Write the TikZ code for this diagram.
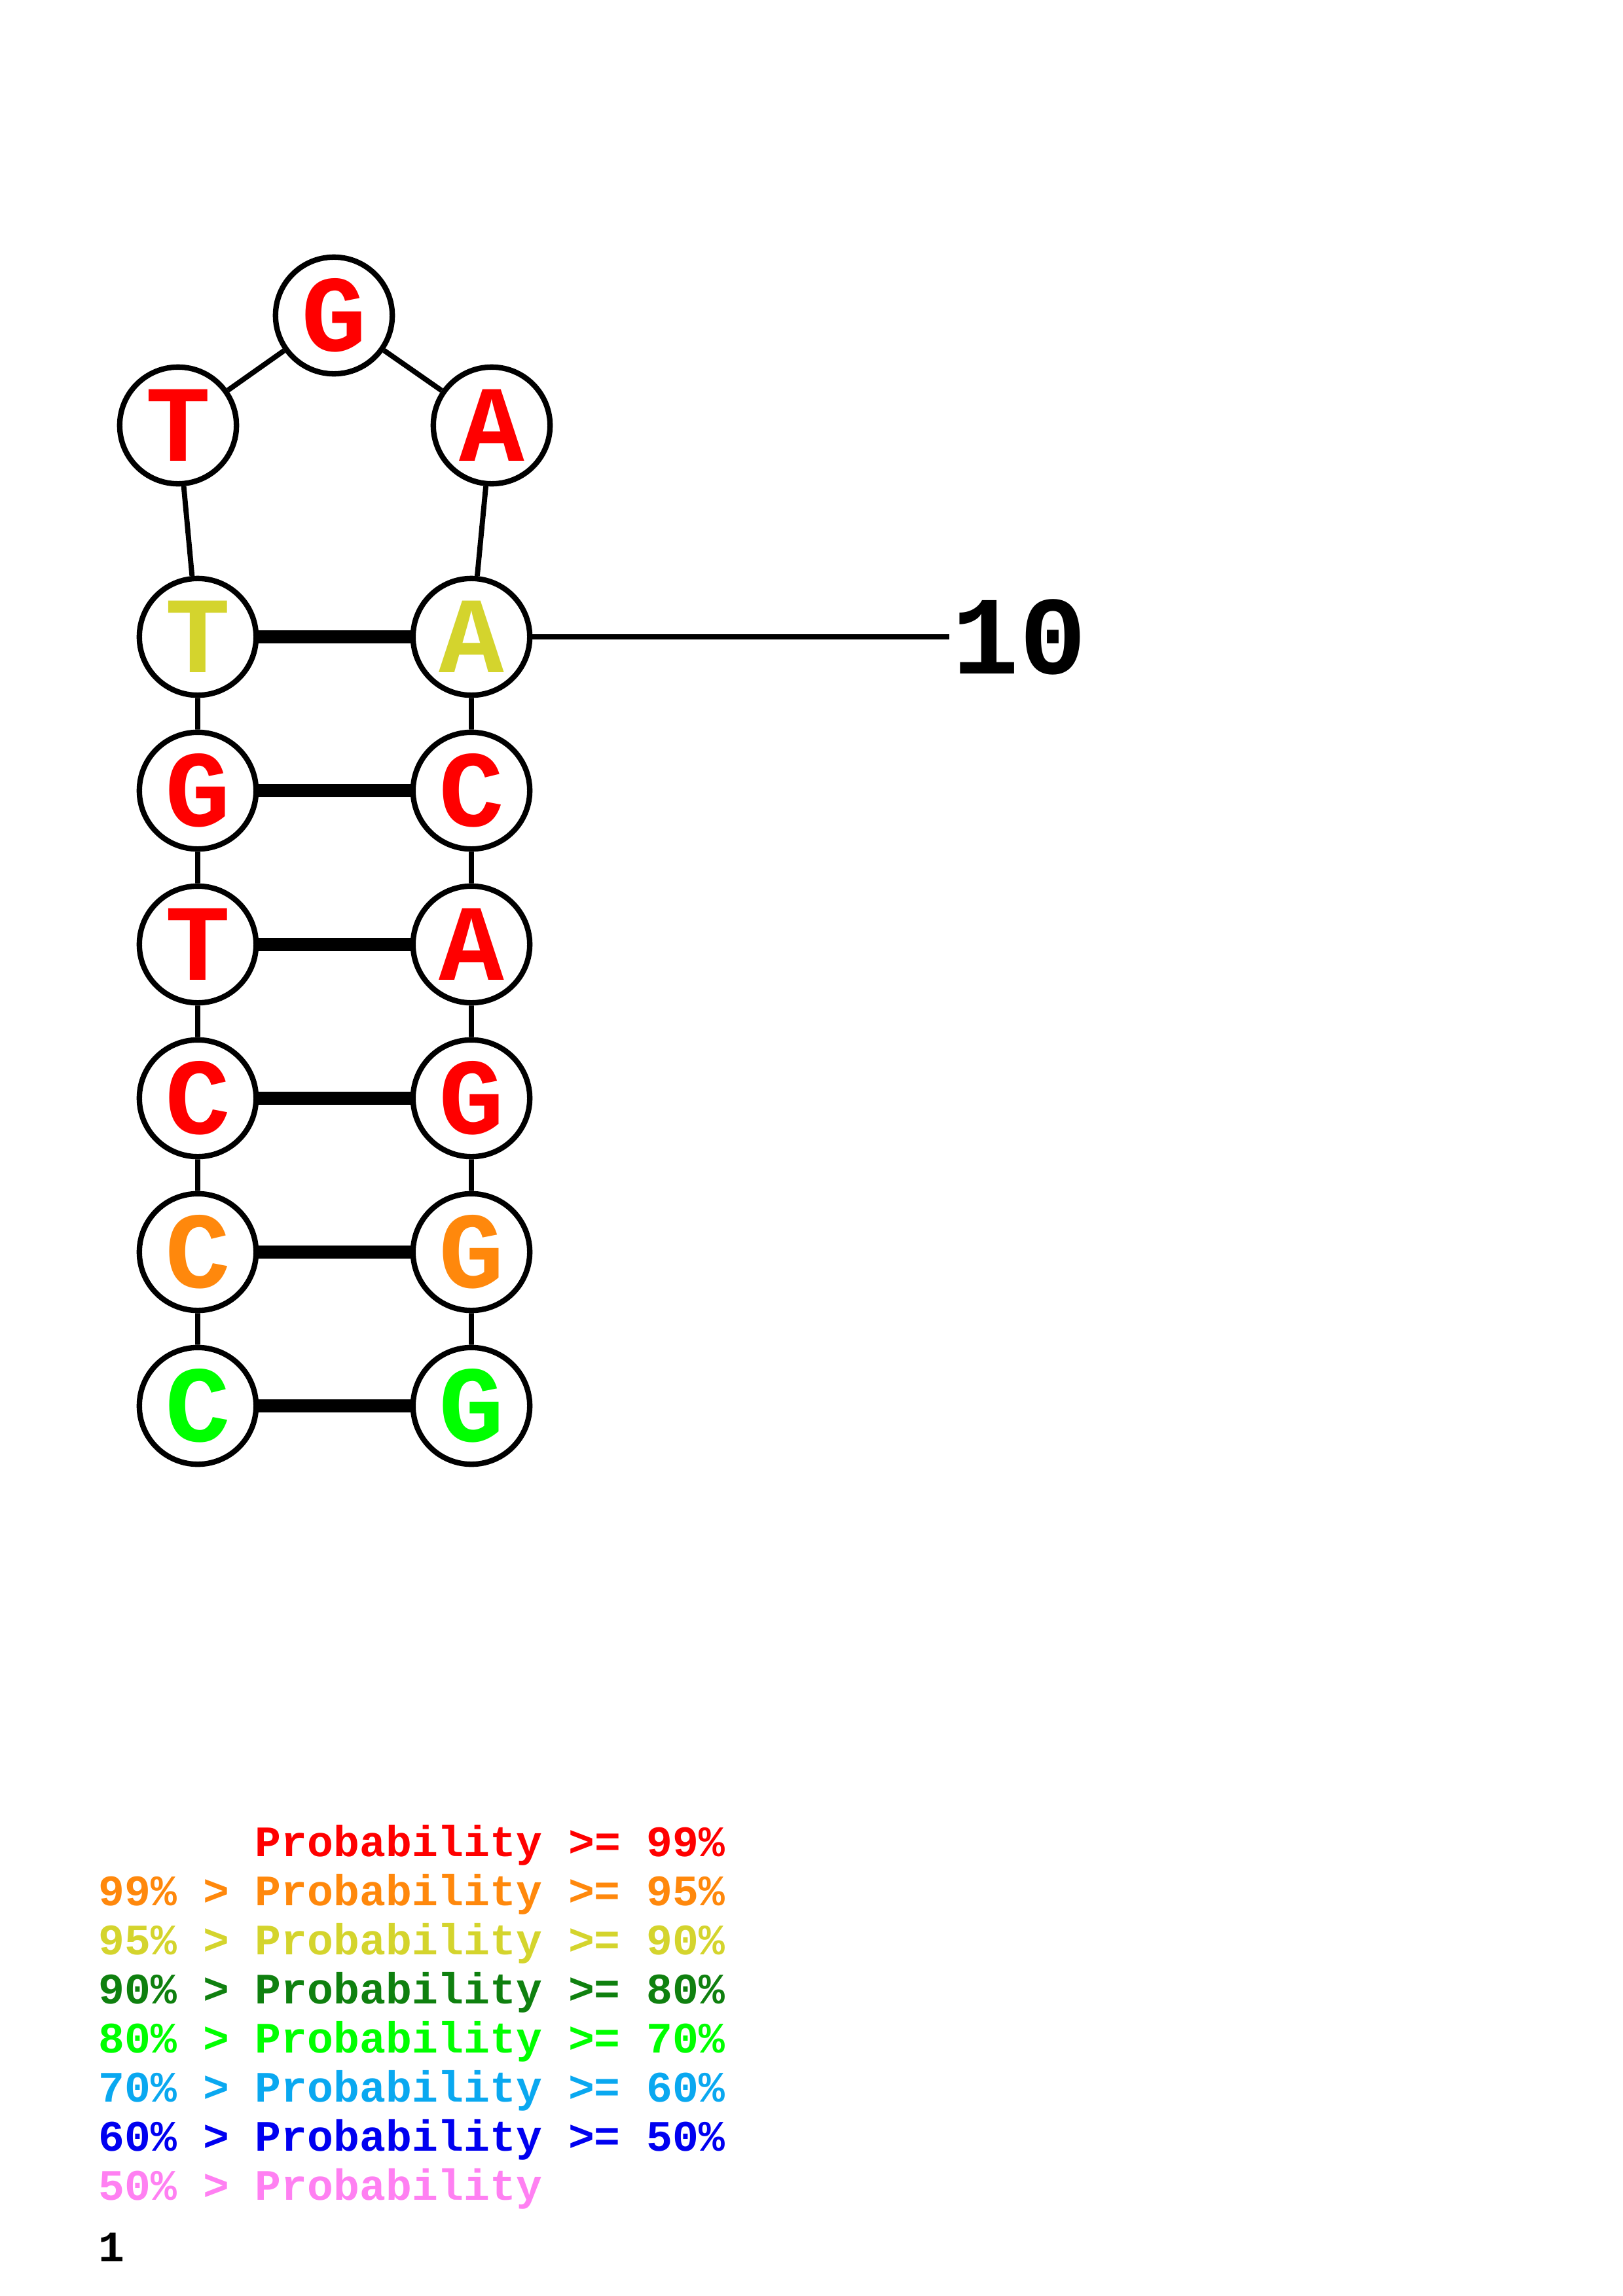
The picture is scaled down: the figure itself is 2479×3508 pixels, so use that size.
\documentclass[tikz,border=0pt]{standalone}
\usepackage{fontspec}
\newfontfamily\basefont{Liberation Mono}

\definecolor{p99}{RGB}{255,0,0}
\definecolor{p95}{RGB}{255,136,12}
\definecolor{p90}{RGB}{212,212,45}
\definecolor{p80}{RGB}{15,128,15}
\definecolor{p70}{RGB}{0,255,0}
\definecolor{p60}{RGB}{10,168,240}
\definecolor{p50}{RGB}{0,0,240}
\definecolor{p00}{RGB}{255,128,242}

\begin{document}
\begin{tikzpicture}[x=0.084667mm,y=-0.084667mm]
  \tikzset{base/.style = {draw, circle, fill=white, line width=2pt, minimum size=15.1mm, inner sep=0pt, font=\basefont\bfseries\fontsize{40}{40}\selectfont}}
  \tikzset{bb/.style = {line width=1.9pt}}
  \tikzset{pair/.style = {line width=4.8pt}}
  \tikzset{legend/.style = {anchor=base west, inner sep=0pt, font=\basefont\bfseries\fontsize{16}{18}\selectfont}}

  \def\lx{302}
  \def\rx{720}

  \useasboundingbox (0,0) rectangle (2479,3508);

  % Stem, left strand
  \node [base,text=p70] (n1) at (\lx,2148) {C};
  \node [base,text=p95] (n2) at (\lx,1913) {C};
  \node [base,text=p99] (n3) at (\lx,1678) {C};
  \node [base,text=p99] (n4) at (\lx,1443) {T};
  \node [base,text=p99] (n5) at (\lx,1208) {G};
  \node [base,text=p90] (n6) at (\lx,973) {T};

  % Loop
  \node [base,text=p99] (n7) at (272,650) {T};
  \node [base,text=p99] (n8) at (510,482) {G};
  \node [base,text=p99] (n9) at (751,650) {A};

  % Stem, right strand
  \node [base,text=p90] (n10) at (\rx,973) {A};
  \node [base,text=p99] (n11) at (\rx,1208) {C};
  \node [base,text=p99] (n12) at (\rx,1443) {A};
  \node [base,text=p99] (n13) at (\rx,1678) {G};
  \node [base,text=p95] (n14) at (\rx,1913) {G};
  \node [base,text=p70] (n15) at (\rx,2148) {G};

  % Backbone
  \draw[bb] (n1) -- (n2) -- (n3) -- (n4) -- (n5) -- (n6) -- (n7) -- (n8) -- (n9) -- (n10) -- (n11) -- (n12) -- (n13) -- (n14) -- (n15);

  % Pairs
  \draw[pair] (n6) -- (n10);
  \draw[pair] (n5) -- (n11);
  \draw[pair] (n4) -- (n12);
  \draw[pair] (n3) -- (n13);
  \draw[pair] (n2) -- (n14);
  \draw[pair] (n1) -- (n15);

  % Numbering
  \coordinate (tick) at (1450,973);
  \draw[bb] (n10) -- (tick);
  \node [anchor=west, inner sep=0pt, xshift=1pt, font=\basefont\bfseries\fontsize{41}{41}\selectfont] (lab10) at (tick) {10};

  % Legend
  \node [legend,text=p99] (l99) at (150,2836) {\phantom{99\% > }Probability >= 99\%};
  \node [legend,text=p95] (l95) at (150,2911) {99\% > Probability >= 95\%};
  \node [legend,text=p90] (l90) at (150,2986) {95\% > Probability >= 90\%};
  \node [legend,text=p80] (l80) at (150,3061) {90\% > Probability >= 80\%};
  \node [legend,text=p70] (l70) at (150,3136) {80\% > Probability >= 70\%};
  \node [legend,text=p60] (l60) at (150,3211) {70\% > Probability >= 60\%};
  \node [legend,text=p50] (l50) at (150,3286) {60\% > Probability >= 50\%};
  \node [legend,text=p00] (l00) at (150,3361) {50\% > Probability};

  \node [legend] (num) at (150,3455) {1};
\end{tikzpicture}
\end{document}
